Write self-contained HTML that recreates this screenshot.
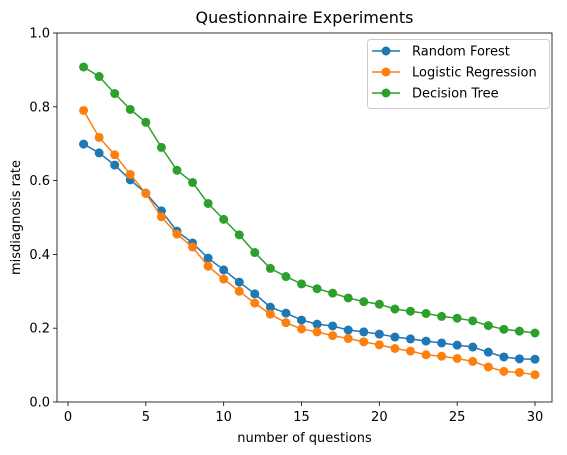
<!DOCTYPE html>
<html><head><meta charset="utf-8"><style>body{margin:0;background:#fff}svg{display:block;font-family:"DejaVu Sans","Liberation Sans",sans-serif}</style></head>
<body>
<svg id="chart" width="567" height="455"></svg>
<script>
const xs=[1,2,3,4,5,6,7,8,9,10,11,12,13,14,15,16,17,18,19,20,21,22,23,24,25,26,27,28,29,30];
const rf=[0.699,0.675,0.642,0.602,0.566,0.518,0.463,0.431,0.390,0.358,0.325,0.293,0.257,0.241,0.222,0.211,0.206,0.195,0.190,0.184,0.176,0.171,0.165,0.160,0.154,0.149,0.135,0.122,0.117,0.116];
const lr=[0.79,0.717,0.67,0.617,0.565,0.502,0.455,0.42,0.368,0.333,0.3,0.268,0.238,0.215,0.198,0.19,0.18,0.172,0.163,0.155,0.145,0.138,0.128,0.124,0.118,0.11,0.095,0.083,0.08,0.074];
const dt=[0.908,0.882,0.836,0.793,0.758,0.69,0.628,0.595,0.538,0.495,0.453,0.405,0.362,0.34,0.32,0.307,0.295,0.282,0.272,0.265,0.252,0.246,0.24,0.232,0.227,0.22,0.207,0.197,0.192,0.187];
const xTicks=[0,5,10,15,20,25,30];
const yTicks=[0.0,0.2,0.4,0.6,0.8,1.0];
const seriesNames=["Random Forest","Logistic Regression","Decision Tree"];
const colors=["#1f77b4","#ff7f0e","#2ca02c"];
const L=57,R=552,T=33,B=402;
const X=v=>68+(v)*(535-68)/30;
const Y=v=>B-v*(B-T);
const svg=document.getElementById('chart');
const NS='http://www.w3.org/2000/svg';
function mk(t,a,p){const e=document.createElementNS(NS,t);for(const k in a)e.setAttribute(k,a[k]);(p||svg).appendChild(e);return e;}
let e;
e=mk('text',{x:(L+R)/2,y:23,'text-anchor':'middle','font-size':16,fill:'#000'});e.textContent='Questionnaire Experiments';


xTicks.forEach(t=>{e=mk('line',{x1:X(t),x2:X(t),y1:B,y2:B+4,stroke:'#000','stroke-width':0.8});


e=mk('text',{x:X(t),y:B+19,'text-anchor':'middle','font-size':13,fill:'#000'});e.textContent=t;

});
yTicks.forEach(t=>{e=mk('line',{x1:L-4,x2:L,y1:Y(t),y2:Y(t),stroke:'#000','stroke-width':0.8});


e=mk('text',{x:L-7,y:Y(t)+4.5,'text-anchor':'end','font-size':13,fill:'#000'});e.textContent=t.toFixed(1);

});
e=mk('text',{x:(L+R)/2,y:442,'text-anchor':'middle','font-size':13,fill:'#000'});e.textContent='number of questions';


e=mk('text',{x:0,y:0,transform:`translate(20,${(T+B)/2}) rotate(-90)`,'text-anchor':'middle','font-size':13,fill:'#000'});e.textContent='misdiagnosis rate';


[rf,lr,dt].forEach((s,i)=>{const g=mk('g',{});


mk('polyline',{points:s.map((v,j)=>X(xs[j])+','+Y(v)).join(' '),fill:'none',stroke:colors[i],'stroke-width':1.5},g);
s.forEach((v,j)=>{const c=mk('circle',{cx:X(xs[j]),cy:Y(v),r:4.5,fill:colors[i]},g);

});});
e=mk('rect',{x:L,y:T,width:R-L,height:B-T,fill:'none',stroke:'#000','stroke-width':0.8});


const lg=mk('g',{});


mk('rect',{x:367.5,y:39.5,width:182,height:69,rx:3,fill:'#fff',stroke:'#ccc','stroke-width':1},lg);
seriesNames.forEach((n,i)=>{const y=51+i*21;
mk('line',{x1:372,x2:400,y1:y,y2:y,stroke:colors[i],'stroke-width':1.5},lg);
mk('circle',{cx:386,cy:y,r:4.5,fill:colors[i]},lg);
const t=mk('text',{x:412,y:y+4.5,'font-size':13,fill:'#000'},lg);t.textContent=n;

});
</script>
</body></html>
